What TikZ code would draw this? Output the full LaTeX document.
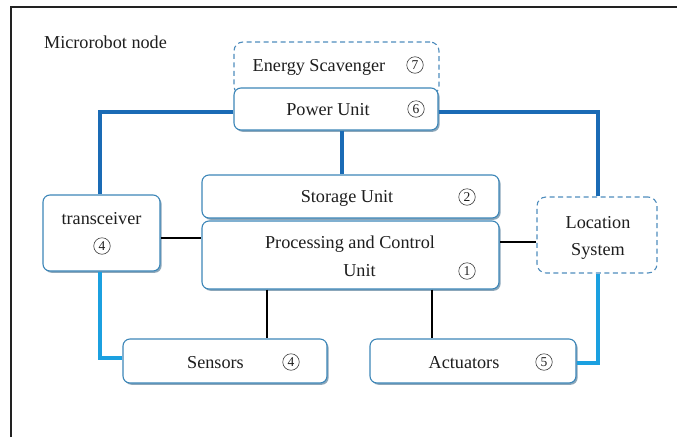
\documentclass[tikz,border=0pt]{standalone}
\usepackage{fontspec}
\setmainfont{Liberation Serif}
\usetikzlibrary{shadows,calc}

\definecolor{boxedge}{HTML}{3C86B8}
\definecolor{dashedge}{HTML}{4F8DBD}
\definecolor{shadowc}{HTML}{7F9DB2}
\definecolor{powerblue}{HTML}{1A6BB5}
\definecolor{signalblue}{HTML}{1BA0E0}
\definecolor{framegray}{HTML}{222222}
\definecolor{textc}{HTML}{1E1E1E}

\tikzset{
  unitbox/.style={rectangle, rounded corners=7pt, draw=boxedge, line width=1.1pt,
    fill=white, inner sep=0pt,
    drop shadow={shadow xshift=1.6pt, shadow yshift=-1.8pt, fill=shadowc, opacity=0.9}},
  optbox/.style={rectangle, rounded corners=9pt, draw=dashedge, line width=1.1pt,
    dash pattern=on 5pt off 3.5pt, fill=white, inner sep=0pt},
  lbl/.style={anchor=base, inner sep=0pt, text=textc, font=\fontsize{18.2}{20}\selectfont},
  num/.style={circle, draw=textc!85, line width=0.6pt, minimum size=16.5pt, inner sep=0pt,
    text=textc, font=\fontsize{13.5}{14}\selectfont},
  powerline/.style={draw=powerblue, line width=3.6pt},
  signalline/.style={draw=signalblue, line width=3.6pt},
  dataline/.style={draw=black, line width=1.4pt},
}

\begin{document}
\begin{tikzpicture}[x=1pt, y=-1pt]
\useasboundingbox (0,0) rectangle (677,437);

% outer frame (open to the right and bottom)
\draw[framegray, line width=2pt] (11,437) -- (11,7) -- (677,7);

\node[lbl] (title) at (105.5,48) {Microrobot node};

% optional units (dashed)
\node[optbox, minimum width=205pt, minimum height=53pt] (energy) at (336.5,68.5) {};
\node[optbox, minimum width=120pt, minimum height=76pt] (loc) at (597,235) {};

% main units
\node[unitbox, minimum width=204pt, minimum height=42pt] (power) at (336,109) {};
\node[unitbox, minimum width=297pt, minimum height=43pt] (storage) at (350.5,196.5) {};
\node[unitbox, minimum width=297pt, minimum height=68pt] (proc) at (350.5,255) {};
\node[unitbox, minimum width=117pt, minimum height=76pt] (trans) at (101.5,233) {};
\node[unitbox, minimum width=204pt, minimum height=44pt] (sensors) at (225,361) {};
\node[unitbox, minimum width=206pt, minimum height=44pt] (act) at (473,361) {};

% power distribution
\coordinate (pwl) at ($(power.west)+(0,3)$);
\coordinate (pwr) at ($(power.east)+(0,3)$);
\coordinate (pwd) at ($(power.south)+(6,0)$);
\draw[powerline] (pwl) -| ($(trans.north)+(-1.5,0)$);
\draw[powerline] (pwr) -| ($(loc.north)+(1,0)$);
\draw[powerline] (pwd) -- (pwd |- storage.north);

% data links to the processing unit
\coordinate (tp) at ($(trans.east)+(0,5)$);
\draw[dataline] (tp) -- (tp -| proc.west);
\coordinate (lp) at ($(loc.west)+(0,7)$);
\draw[dataline] (lp) -- (lp -| proc.east);
\coordinate (ps) at (267,0);
\coordinate (pa) at (432,0);
\draw[dataline] (ps |- proc.south) -- (ps |- sensors.north);
\draw[dataline] (pa |- proc.south) -- (pa |- act.north);

% signal links
\coordinate (sw) at ($(sensors.west)+(0,-3)$);
\draw[signalline] ($(trans.south)+(-1.5,0)$) |- (sw);
\coordinate (ae) at ($(act.east)+(0,2)$);
\draw[signalline] ($(loc.south)+(1,0)$) |- (ae);

% labels
\node[lbl] (tEnergy) at (319,71) {Energy Scavenger};
\node[num] (nEnergy) at (415,65) {7};
\node[lbl] (tPower) at (328,115) {Power Unit};
\node[num] (nPower) at (416,109) {6};
\node[lbl] (tStorage) at (347,202) {Storage Unit};
\node[num] (nStorage) at (467,197) {2};
\node[lbl] (tProc) at (350,248) {Processing and Control};
\node[lbl] (tProcB) at (359.5,276) {Unit};
\node[num] (nProc) at (467,271) {1};
\node[lbl] (tTrans) at (101.5,224) {transceiver};
\node[num] (nTrans) at (102,246) {4};
\node[lbl] (tLoc) at (598,228) {Location};
\node[lbl] (tLocB) at (598,255) {System};
\node[lbl] (tSens) at (215.5,368) {Sensors};
\node[num] (nSens) at (291,362) {4};
\node[lbl] (tAct) at (464,368) {Actuators};
\node[num] (nAct) at (544,362) {5};
\end{tikzpicture}
\end{document}
